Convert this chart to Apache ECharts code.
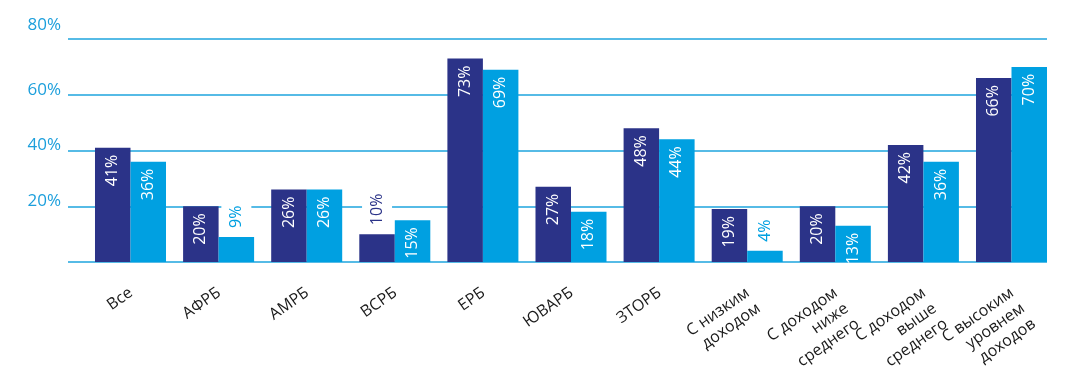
<!DOCTYPE html>
<html>
<head>
<meta charset="utf-8">
<script src="https://cdn.jsdelivr.net/npm/echarts@6/dist/echarts.min.js"></script>
<style>
html,body{margin:0;padding:0;background:#fff;}
#chart{width:1081px;height:367px;}
</style>
</head>
<body>
<div id="chart"></div>
<script>
const categories = ['Все','АФРБ','АМРБ','ВСРБ','ЕРБ','ЮВАРБ','ЗТОРБ','С низким\nдоходом','С доходом\nниже\nсреднего','С доходом\nвыше\nсреднего','С высоким\nуровнем\nдоходов'];
const navyValues = [41,20,26,10,73,27,48,19,20,42,66];
const blueValues = [36,9,26,15,69,18,44,4,13,36,70];
const yMin = 0, yMax = 80, yStep = 20;

const NAVY = '#2b3388';
const BLUE = '#00a0e1';
const GRIDC = '#1ea4de';
const FONT = 'Open Sans';

function buildData(values, color) {
  return values.map(v => {
    if (v < 12) {
      return { value: v, label: {
        show: true, position: 'top', distance: 9, rotate: 90,
        align: 'left', verticalAlign: 'middle',
        color: color, backgroundColor: '#ffffff', padding: [7, 6, 7, 0],
        fontFamily: FONT, fontSize: 16, formatter: '{c}%'
      }};
    }
    return { value: v, label: {
      show: true, position: 'insideTop', distance: 7, rotate: 90,
      align: 'right', verticalAlign: 'middle',
      color: '#ffffff', fontFamily: FONT, fontSize: 16, formatter: '{c}%'
    }};
  });
}

const chart = echarts.init(document.getElementById('chart'), null, {renderer: 'canvas'});
chart.setOption({
  animation: false,
  backgroundColor: '#ffffff',
  grid: [
    { left: 86.45, width: 969.1, top: 39, height: 223, containLabel: false, outerBoundsMode: 'none' },
    { left: 68, width: 979, top: 39, height: 223, containLabel: false, outerBoundsMode: 'none' }
  ],
  xAxis: [
    { type: 'category', gridIndex: 0, data: categories,
      axisLine: {show: false}, axisTick: {show: false},
      axisLabel: { interval: 0, rotate: 35, margin: 18, align: 'right', verticalAlign: 'top',
        padding: [0, 6, 0, 0],
        color: '#1a1a1a', fontFamily: FONT, fontSize: 16, lineHeight: 19 } },
    { type: 'category', gridIndex: 1, data: [''], show: false }
  ],
  yAxis: [
    { type: 'value', gridIndex: 0, min: yMin, max: yMax, interval: yStep, show: false, splitLine: {show: false} },
    { type: 'value', gridIndex: 1, min: yMin, max: yMax, interval: yStep,
      axisLine: {show: false}, axisTick: {show: false},
      splitLine: { show: true, lineStyle: { color: GRIDC, width: 1.6 } },
      axisLabel: { margin: 7, color: '#1c9fdc', fontFamily: FONT, fontSize: 17, fontWeight: 500,
        padding: [0, 0, 10, 0],
        formatter: v => v === 0 ? '' : (v === yMax ? '{t|' + v + '%}' : v + '%'),
        rich: { t: { color: '#1c9fdc', fontFamily: FONT, fontSize: 17, fontWeight: 500, padding: [0, 0, 18, 0] } } } }
  ],
  series: [
    { name: 'Серия 1', type: 'bar', xAxisIndex: 0, yAxisIndex: 0, data: buildData(navyValues, NAVY),
      itemStyle: {color: NAVY}, barGap: '0%', barCategoryGap: '19.4%' },
    { name: 'Серия 2', type: 'bar', xAxisIndex: 0, yAxisIndex: 0, data: buildData(blueValues, BLUE),
      itemStyle: {color: BLUE}, barGap: '0%', barCategoryGap: '19.4%' },
    { name: 'grid', type: 'line', xAxisIndex: 1, yAxisIndex: 1, data: [], silent: true }
  ]
});
</script>
</body>
</html>
